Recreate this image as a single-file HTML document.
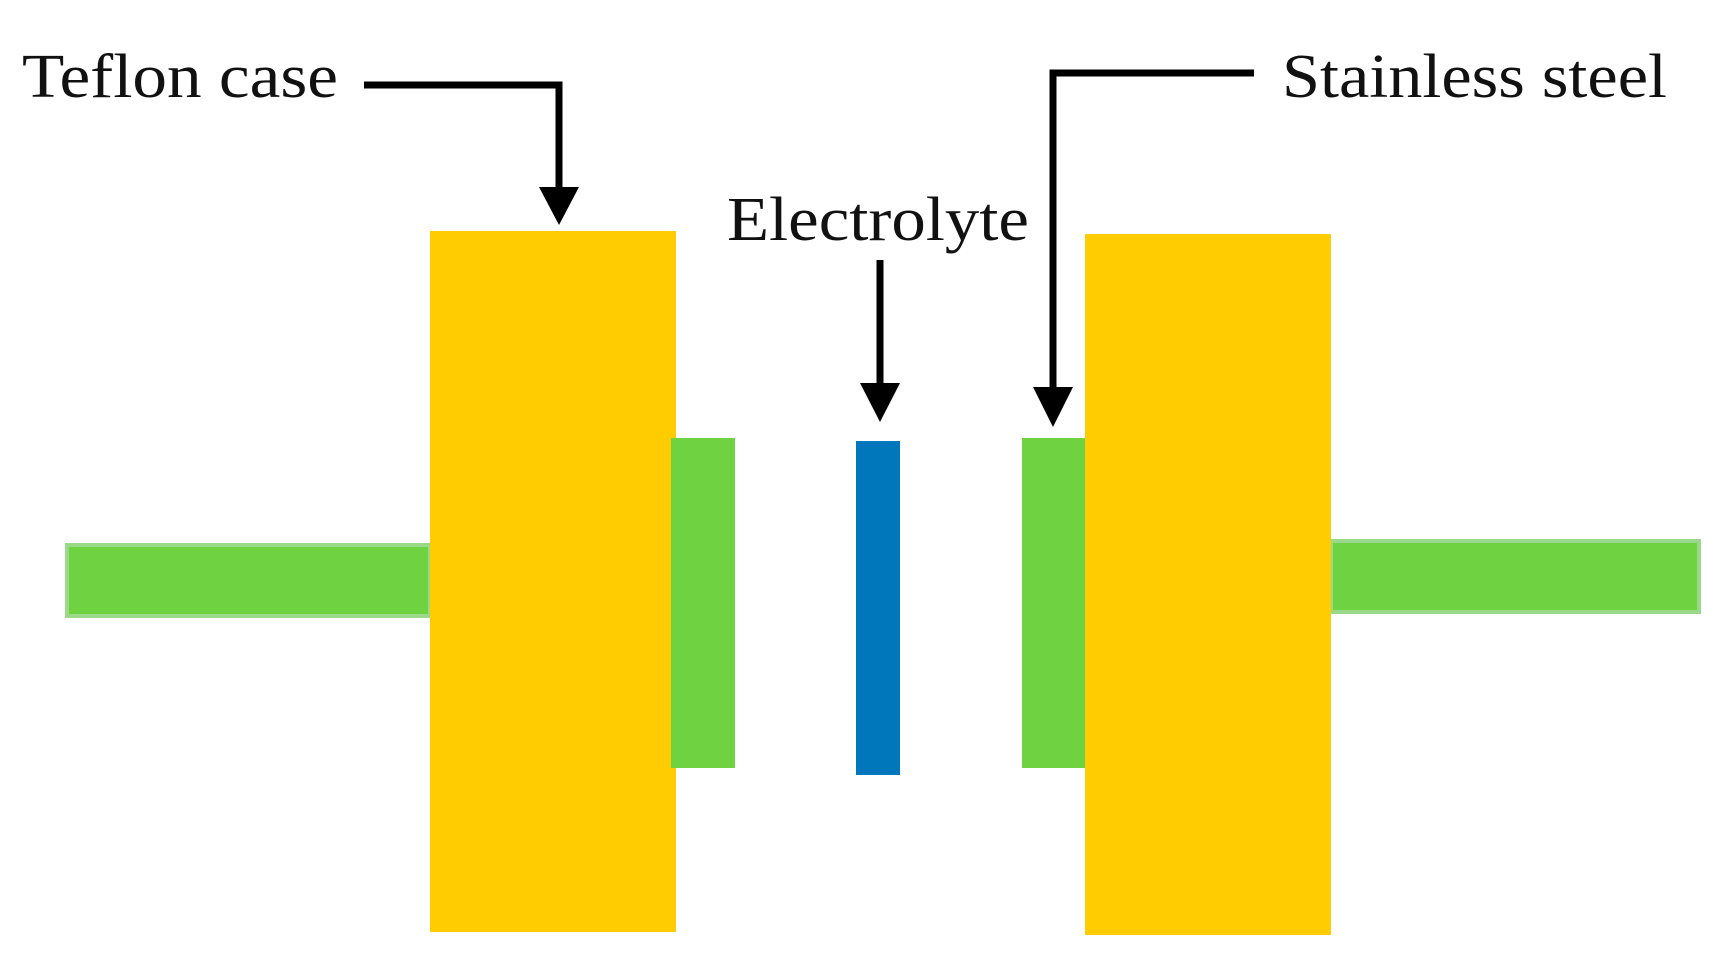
<!DOCTYPE html>
<html><head><style>html,body{margin:0;padding:0;background:#fff}</style></head>
<body>
<svg width="1726" height="967" viewBox="0 0 1726 967" xmlns="http://www.w3.org/2000/svg" style="display:block">
<rect x="0" y="0" width="1726" height="967" fill="#fff"/>
<rect x="67" y="545" width="363" height="71" fill="#6fd341" stroke="#9ad88a" stroke-width="4"/>
<rect x="1331" y="541" width="368" height="71" fill="#6fd341" stroke="#9ad88a" stroke-width="4"/>
<rect x="430" y="231" width="246" height="701" fill="#fecc00"/>
<rect x="1085" y="234" width="246" height="701" fill="#fecc00"/>
<rect x="671" y="438" width="64" height="330" fill="#6fd341"/>
<rect x="1022" y="438" width="63" height="330" fill="#6fd341"/>
<rect x="856" y="441" width="44" height="334" fill="#0077bb"/>
<g font-family="Liberation Serif, serif" font-size="62" fill="#111">
<text x="22" y="97" textLength="316" lengthAdjust="spacingAndGlyphs">Teflon case</text>
<text x="727" y="240" textLength="302" lengthAdjust="spacingAndGlyphs">Electrolyte</text>
<text x="1282" y="97" textLength="385" lengthAdjust="spacingAndGlyphs">Stainless steel</text>
</g>
<g stroke="#000" stroke-width="7" fill="none">
<polyline points="364,85 559,85 559,190"/>
<line x1="880" y1="260" x2="880" y2="386"/>
<polyline points="1254,73 1053,73 1053,390"/>
</g>
<g fill="#000">
<polygon points="539,187 579,187 559,225"/>
<polygon points="860,383 900,383 880,422"/>
<polygon points="1033,387 1073,387 1053,427"/>
</g>
</svg>
</body></html>
